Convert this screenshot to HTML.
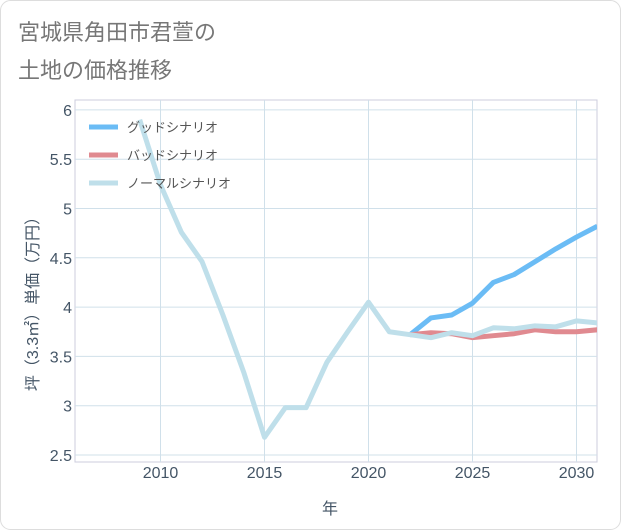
<!DOCTYPE html>
<html><head><meta charset="utf-8"><style>
body{margin:0;background:#fff;}
svg{display:block;font-family:"Liberation Sans","Noto Sans CJK JP",sans-serif;}
</style></head><body>
<svg id="chart" width="621" height="530">
<rect x="0.5" y="0.5" width="620" height="529" rx="10" fill="#fff" stroke="#ddd"/>
<text x="18" y="40" font-size="22" fill="#777">宮城県角田市君萱の</text>
<text x="18" y="78" font-size="22" fill="#777">土地の価格推移</text>
<g id="grid"></g><g id="axes"></g><g id="series"></g><g id="legend"></g>
<text x="330" y="514" font-size="16" fill="#456" text-anchor="middle">年</text>
<text transform="translate(38,300) rotate(-90)" font-size="16" fill="#456" text-anchor="middle">坪（3.3㎡）単価（万円）</text>
</svg>
<script>
const years=[2009,2010,2011,2012,2013,2014,2015,2016,2017,2018,2019,2020,2021,2022,2023,2024,2025,2026,2027,2028,2029,2030,2031];
const normal=[5.9,5.24,4.76,4.46,3.92,3.34,2.68,2.98,2.98,3.44,3.75,4.05,3.75,3.72,3.69,3.74,3.71,3.79,3.78,3.81,3.80,3.86,3.84];
const goodYears=[2022,2023,2024,2025,2026,2027,2028,2029,2030,2031];
const good=[3.72,3.89,3.92,4.04,4.25,4.33,4.46,4.59,4.71,4.82];
const bad=[3.72,3.74,3.73,3.69,3.71,3.73,3.77,3.75,3.75,3.77];
const xTicks=[2010,2015,2020,2025,2030];
const yTicks=[2.5,3,3.5,4,4.5,5,5.5,6];
const yTickLabels=["2.5","3","3.5","4","4.5","5","5.5","6"];
const L=75,R=597,T=100,B=462;
const x=v=>160.5+(v-2010)*20.8;
const y=v=>455-(v-2.5)*98.6;
const NS="http://www.w3.org/2000/svg";
function mk(tag,attrs,parent){const e=document.createElementNS(NS,tag);for(const k in attrs)e.setAttribute(k,attrs[k]);parent.appendChild(e);return e;}
const grid=document.getElementById('grid'),axes=document.getElementById('axes'),ser=document.getElementById('series'),leg=document.getElementById('legend');
mk('rect',{x:L,y:T,width:R-L,height:B-T,fill:'none',stroke:'#ccd'},grid);
xTicks.forEach(t=>{const l=mk('line',{x1:x(t),x2:x(t),y1:T,y2:B,stroke:'#d0e0ea'},grid);
const tx=mk('text',{x:x(t),y:478,'font-size':16,fill:'#456','text-anchor':'middle'},axes);tx.textContent=t;});
yTicks.forEach((t,i)=>{const l=mk('line',{x1:L,x2:R,y1:y(t),y2:y(t),stroke:'#d0e0ea'},grid);
const tx=mk('text',{x:72,y:y(t)+6,'font-size':16,fill:'#456','text-anchor':'end'},axes);tx.textContent=yTickLabels[i];});
mk('clipPath',{id:'clip'},ser).appendChild(document.createElementNS(NS,'rect'));
const cr=ser.querySelector('clipPath rect');cr.setAttribute('x',L);cr.setAttribute('y',T);cr.setAttribute('width',R-L);cr.setAttribute('height',B-T);
function line(xs,vs,color,name){const p=mk('polyline',{points:xs.map((v,i)=>x(v)+','+y(vs[i])).join(' '),fill:'none',stroke:color,'stroke-width':5,'stroke-linejoin':'round','clip-path':'url(#clip)'},ser);
}
line(goodYears,good,'#6bbcf5','good-scenario-line');
line(goodYears,bad,'#e08a90','bad-scenario-line');
line(years,normal,'#bfdfea','normal-scenario-line');
[['グッドシナリオ','#6bbcf5','legend-good'],['バッドシナリオ','#e08a90','legend-bad'],['ノーマルシナリオ','#bfdfea','legend-normal']].forEach((d,i)=>{
const g=mk('g',{},leg);
mk('line',{x1:89,x2:118,y1:127+i*28,y2:127+i*28,stroke:d[1],'stroke-width':5},g);
const t=mk('text',{x:127,y:132+i*28,'font-size':13,fill:'#555'},g);t.textContent=d[0];});
</script>
</body></html>
